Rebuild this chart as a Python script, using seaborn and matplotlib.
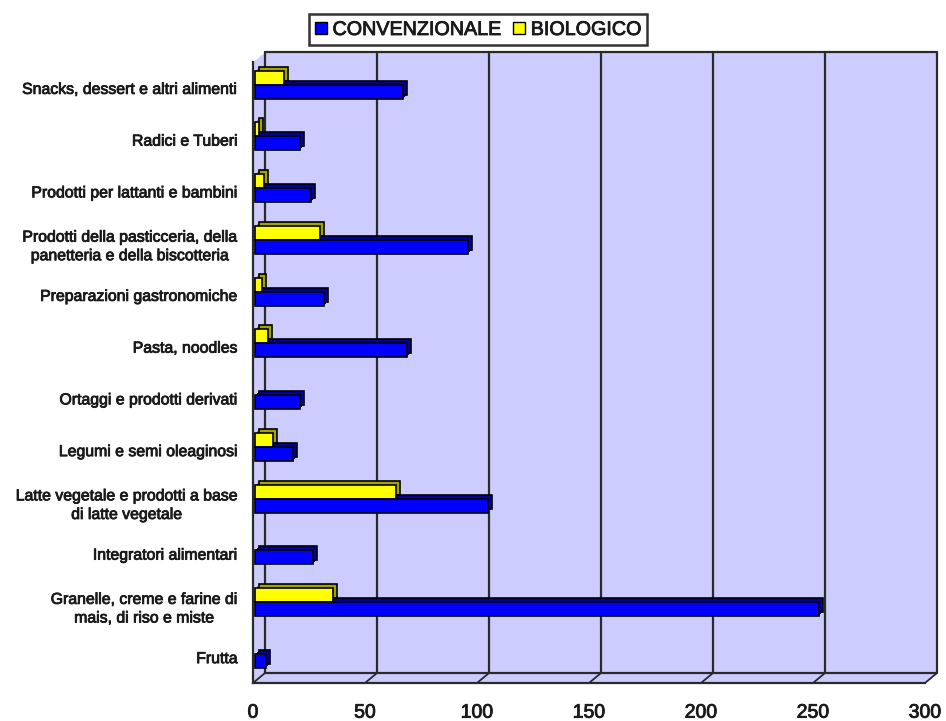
import matplotlib
matplotlib.use("Agg")
import matplotlib.pyplot as plt
import matplotlib.patheffects as pe
import numpy as np
import pandas as pd
import seaborn as sns
from matplotlib.patches import Rectangle, Patch
from matplotlib.transforms import ScaledTranslation, blended_transform_factory

# --- data -------------------------------------------------------------------
categorie = [
    "Snacks, dessert e altri alimenti",
    "Radici e Tuberi",
    "Prodotti per lattanti e bambini",
    "Prodotti della pasticceria, della\npanetteria e della biscotteria",
    "Preparazioni gastronomiche",
    "Pasta, noodles",
    "Ortaggi e prodotti derivati",
    "Legumi e semi oleaginosi",
    "Latte vegetale e prodotti a base\ndi latte vegetale",
    "Integratori alimentari",
    "Granelle, creme e farine di\nmais, di riso e miste",
    "Frutta",
]
convenzionale = [66, 20, 25, 95, 31, 68, 20, 17, 104, 26, 252, 5]
biologico = [13, 2, 4, 29, 3, 6, 0, 8, 63, 0, 35, 0]
serie = ["CONVENZIONALE", "BIOLOGICO"]
x_ticks = [0, 50, 100, 150, 200, 250, 300]

df = pd.DataFrame({
    "categoria": categorie * 2,
    "valore": convenzionale + biologico,
    "serie": [serie[0]] * len(categorie) + [serie[1]] * len(categorie),
})

# --- style --------------------------------------------------------------------
sns.set_style("white")
plt.rcParams["font.family"] = ["Liberation Sans", "DejaVu Sans"]

W, H, DPI = 946, 721, 100
LAVENDER = "#CCCCFF"
LINE = "#2a2a2a"
TEXT = "#1a1a1a"
face = {"CONVENZIONALE": "#0000FF", "BIOLOGICO": "#FFFF00"}
side = {"CONVENZIONALE": "#00009A", "BIOLOGICO": "#A3A300"}
heavy = [pe.withStroke(linewidth=0.6, foreground=TEXT)]

fig = plt.figure(figsize=(W / DPI, H / DPI), dpi=DPI)
fig.patch.set_facecolor("white")

# front plane of the 3D box
ax = fig.add_axes([253 / W, 1 - 683 / H, (925 - 253) / W, (683 - 62) / H])
ax.patch.set_visible(False)

sns.barplot(
    data=df, x="valore", y="categoria", hue="serie", order=categorie,
    hue_order=["BIOLOGICO", "CONVENZIONALE"], palette=face, orient="h",
    width=0.54, edgecolor="black", linewidth=1.2, saturation=1,
    legend=False, ax=ax, zorder=5,
)
bars = list(ax.patches)

ax.set_xlim(0, 300)
ax.set_ylim(len(categorie) - 0.5, -0.5)

def shift(dx, dy, base):
    return base + ScaledTranslation(dx / DPI, dy / DPI, fig.dpi_scale_trans)

# depth of the box (back wall offset, pixels)
DX, DY = 12, 10

# box walls: stacked copies of the plane give the slanted silhouette
for k in range(0, 13):
    ax.add_patch(Rectangle((0, 0), 1, 1, transform=shift(DX * k / 12, DY * k / 12, ax.transAxes),
                           facecolor=LAVENDER, edgecolor="none", zorder=0, clip_on=False))

# back wall outline and vertical grid lines
back = shift(DX, DY, ax.transAxes)
ax.plot([0, 1, 1], [1, 1, 0], transform=back, color=LINE, lw=1.6, zorder=1, clip_on=False)
ax.plot([0, 1], [0, 0], transform=back, color=LINE, lw=1.6, zorder=1, clip_on=False)
grid_t = shift(DX, DY, blended_transform_factory(ax.transData, ax.transAxes))
for xv in x_ticks[:-1]:
    ax.plot([xv, xv], [0, 1], transform=grid_t, color=LINE, lw=1.6, zorder=1, clip_on=False)

# floor diagonals from each tick to the back wall
floor_t = blended_transform_factory(ax.transData, ax.transAxes)
for xv in x_ticks:
    ax.annotate("", xy=(xv, 0), xycoords=floor_t, xytext=(DX, DY),
                textcoords="offset pixels",
                arrowprops=dict(arrowstyle="-", color=LINE, lw=1.3,
                                shrinkA=0, shrinkB=0), zorder=1,
                annotation_clip=False)

# 3D bars: dark copies stacked behind each face
BX, BY = 2, 3.3
BD = 4
for p in bars:
    w = p.get_width()
    if w <= 0:
        p.set_visible(False)
        continue
    fc = tuple(p.get_facecolor())
    name = "CONVENZIONALE" if fc[2] > 0.5 and fc[0] < 0.5 else "BIOLOGICO"
    for k in range(1, BD + 1):
        ax.add_patch(Rectangle(p.get_xy(), w, p.get_height(),
                               transform=shift(BX + k, BY + k, ax.transData),
                               facecolor=side[name],
                               edgecolor="black" if k == BD else "none",
                               lw=1.2, zorder=4, clip_on=False))
    p.set_transform(shift(BX, BY, ax.transData))
    p.set_clip_on(False)

# axes lines, ticks, labels
for s in ["top", "right"]:
    ax.spines[s].set_visible(False)
for s in ["left", "bottom"]:
    ax.spines[s].set_color(LINE)
    ax.spines[s].set_linewidth(1.6)
    ax.spines[s].set_zorder(2)

ax.set_xticks(x_ticks)
ax.set_xticklabels([str(v) for v in x_ticks], fontsize=14, color=TEXT)
ax.tick_params(axis="x", which="major", direction="out", length=8.6, width=1.5,
               color=LINE, pad=7)
ax.set_yticks(range(len(categorie)))
ax.set_yticks(np.arange(-0.5, len(categorie), 1.0), minor=True)
ax.tick_params(axis="y", which="major", length=0, pad=11)
ax.tick_params(axis="y", which="minor", direction="out", length=10.8, width=1.5,
               color=LINE)
for lbl in ax.get_yticklabels():
    lbl.set_fontsize(11.4)
    lbl.set_color(TEXT)
    lbl.set_multialignment("center")
    lbl.set_linespacing(1.3)
    lbl.set_path_effects(heavy)
for lbl in ax.get_xticklabels():
    lbl.set_path_effects(heavy)
ax.set_xlabel("")
ax.set_ylabel("")

# legend
handles = [Patch(facecolor=face[s], edgecolor="black", lw=1.0, label=s) for s in serie]
leg = fig.legend(handles=handles, loc="center", ncol=2,
                 bbox_to_anchor=(478 / W, 1 - 29.5 / H), bbox_transform=fig.transFigure,
                 fontsize=14.2, frameon=True, fancybox=False, edgecolor="black",
                 handlelength=0.6, handleheight=0.6, handletextpad=0.3,
                 columnspacing=0.6, borderpad=0.3, borderaxespad=0)
leg.get_frame().set_linewidth(1.8)
for t in leg.get_texts():
    t.set_color(TEXT)
    t.set_path_effects(heavy)

fig.savefig("out.png", dpi=DPI)
